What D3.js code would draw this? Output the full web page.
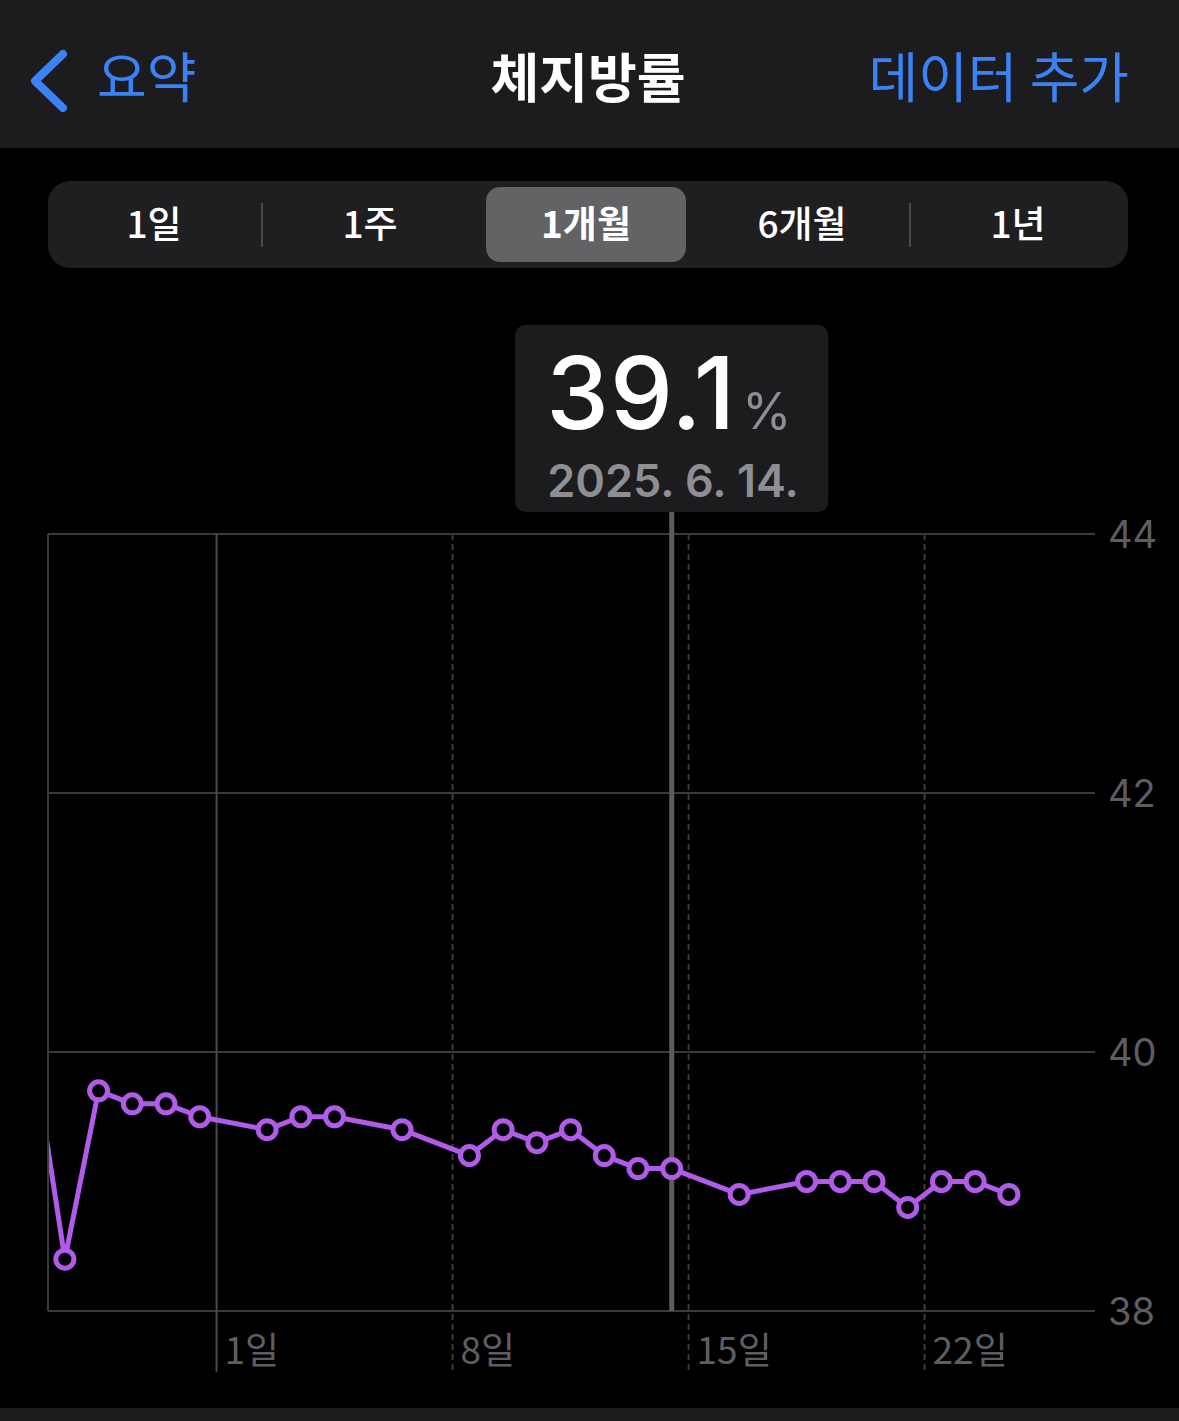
<!DOCTYPE html>
<html><head><meta charset="utf-8">
<script src="https://cdn.jsdelivr.net/npm/d3@7"></script>
<style>
html,body{margin:0;padding:0;background:#000;}
svg{display:block;}
</style></head>
<body>
<svg id="c" width="1179" height="1421"></svg>
<script>
// ---- data ----
const dates = ["2025-05-26","2025-05-27","2025-05-28","2025-05-29","2025-05-30","2025-05-31","2025-06-02","2025-06-03","2025-06-04","2025-06-06","2025-06-08","2025-06-09","2025-06-10","2025-06-11","2025-06-12","2025-06-13","2025-06-14","2025-06-16","2025-06-18","2025-06-19","2025-06-20","2025-06-21","2025-06-22","2025-06-23","2025-06-24"];
const values = [40.1,38.4,39.7,39.6,39.6,39.5,39.4,39.5,39.5,39.4,39.2,39.4,39.3,39.4,39.2,39.1,39.1,38.9,39.0,39.0,39.0,38.8,39.0,39.0,38.9];
const yTicks = [38,40,42,44];
const xTickDates = ["2025-06-01","2025-06-08","2025-06-15","2025-06-22"];
const xTickLabels = ["1일","8일","15일","22일"];
const segments = ["1일","1주","1개월","6개월","1년"];
const selectedSegment = 2;
const selectedDate = "2025-06-14";
const title = "체지방률";
const backLabel = "요약";
const addLabel = "데이터 추가";

const FONT = "Inter, 'Noto Sans CJK KR', sans-serif";
const KFONT = "'Noto Sans CJK KR', Inter, sans-serif";
const BLUE = "#3a82f6";
const PURPLE = "#b05ce8";
const GRID = "#3a3a3c";
const AXT = "#5e5e62";

const svg = d3.select("#c");
svg.append("rect").attr("width",1179).attr("height",1421).attr("fill","#000");

// nav bar
svg.append("rect").attr("x",0).attr("y",0).attr("width",1179).attr("height",148).attr("fill","#1c1c1e");
svg.append("path").attr("d","M63,54 L35,81 L63,108").attr("fill","none").attr("stroke",BLUE)
  .attr("stroke-width",8).attr("stroke-linecap","round").attr("stroke-linejoin","round");
svg.append("text").attr("x",97).attr("y",98).attr("fill",BLUE).attr("font-family",KFONT)
  .attr("font-size",54).text(backLabel);
svg.append("text").attr("x",588).attr("y",98).attr("fill","#fff").attr("font-family",KFONT)
  .attr("font-size",53).attr("font-weight",700).attr("text-anchor","middle").text(title);
svg.append("text").attr("x",1129).attr("y",98).attr("fill",BLUE).attr("font-family",KFONT)
  .attr("font-size",54).attr("text-anchor","end").text(addLabel);

// bottom strip
svg.append("rect").attr("x",0).attr("y",1408).attr("width",1179).attr("height",13).attr("fill","#1c1c1e");

// segmented control
const segX = d3.scaleBand().domain(d3.range(segments.length)).range([46,1126]);
svg.append("rect").attr("x",48).attr("y",181).attr("width",1080).attr("height",87).attr("rx",22).attr("fill","#1f1f21");
svg.append("rect").attr("x",486).attr("y",187).attr("width",200).attr("height",75).attr("rx",14).attr("fill","#636366");
[262,910].forEach(x=>svg.append("line").attr("x1",x).attr("x2",x).attr("y1",203).attr("y2",247).attr("stroke","#48484a").attr("stroke-width",2));
svg.selectAll("text.seg").data(segments).join("text").attr("class","seg")
  .attr("x",(d,i)=>segX(i)+segX.bandwidth()/2).attr("y",238).attr("text-anchor","middle")
  .attr("fill","#fff").attr("font-family",KFONT).attr("font-size",37)
  .attr("font-weight",(d,i)=>i===selectedSegment?600:500).text(d=>d);

// scales
const parse = d3.timeParse("%Y-%m-%d");
const data = dates.map((d,i)=>({date:d3.timeHour.offset(parse(d),12), value:values[i], key:d}));
const x = d3.scaleTime().domain([parse("2025-05-27"), parse("2025-06-27")]).range([48, 48+31*33.714]);
const y = d3.scaleLinear().domain([38,44]).range([1311,534]);

// horizontal grid + y labels
svg.selectAll("line.hg").data(yTicks).join("line").attr("class","hg")
  .attr("x1",48).attr("x2",1095).attr("y1",d=>y(d)).attr("y2",d=>y(d))
  .attr("stroke",GRID).attr("stroke-width",2);
svg.selectAll("text.yl").data(yTicks).join("text").attr("class","yl")
  .attr("x",1108).attr("y",d=>y(d)+14).attr("fill",AXT).attr("font-family",FONT)
  .attr("font-size",38).text(d=>d);

// vertical grid
svg.append("line").attr("x1",48).attr("x2",48).attr("y1",534).attr("y2",1311).attr("stroke",GRID).attr("stroke-width",2);
svg.selectAll("line.vg").data(xTickDates).join("line").attr("class","vg")
  .attr("x1",d=>x(parse(d))).attr("x2",d=>x(parse(d))).attr("y1",534).attr("y2",1372)
  .attr("stroke",(d,i)=>i===0?"#4a4a4c":GRID).attr("stroke-width",2)
  .attr("stroke-dasharray",(d,i)=>i===0?null:"6,4");
svg.selectAll("text.xl").data(xTickDates).join("text").attr("class","xl")
  .attr("x",d=>x(parse(d))+8).attr("y",1364).attr("fill",AXT).attr("font-family",KFONT)
  .attr("font-size",37).text((d,i)=>xTickLabels[i]);

// cursor
const sel = data.find(d=>d.key===selectedDate);
const sx = x(sel.date);
svg.append("line").attr("x1",sx).attr("x2",sx).attr("y1",512).attr("y2",1311)
  .attr("stroke","#5c5c60").attr("stroke-width",5);

// clip
svg.append("clipPath").attr("id","plot").append("rect").attr("x",49).attr("y",500).attr("width",1060).attr("height",850);

const g = svg.append("g").attr("clip-path","url(#plot)");
g.append("path").datum(data).attr("fill","none").attr("stroke",PURPLE).attr("stroke-width",5)
  .attr("stroke-linejoin","round")
  .attr("d",d3.line().x(d=>x(d.date)).y(d=>y(d.value)));
g.selectAll("circle").data(data).join("circle")
  .attr("cx",d=>x(d.date)).attr("cy",d=>y(d.value)).attr("r",9)
  .attr("fill","#000").attr("stroke",PURPLE).attr("stroke-width",5);

// tooltip
const tw = 313, th = 187;
svg.append("rect").attr("x",sx-tw/2).attr("y",325).attr("width",tw).attr("height",th).attr("rx",10).attr("fill","#1c1c1e");
const t1 = svg.append("text").attr("x",sx-tw/2+31).attr("y",429).attr("font-family",FONT);
t1.append("tspan").attr("fill","#fff").attr("font-size",100).attr("font-weight",500).attr("letter-spacing",1).text(sel.value.toFixed(1));
t1.append("tspan").attr("fill","#8e8e93").attr("font-size",50).attr("dx",6).text("%");
const dt = sel.date;
svg.append("text").attr("x",sx-tw/2+32).attr("y",497).attr("fill","#8e8e93").attr("font-family",FONT)
  .attr("font-size",45).attr("font-weight",600)
  .text(`${dt.getFullYear()}. ${dt.getMonth()+1}. ${dt.getDate()}.`);
</script>
</body></html>
